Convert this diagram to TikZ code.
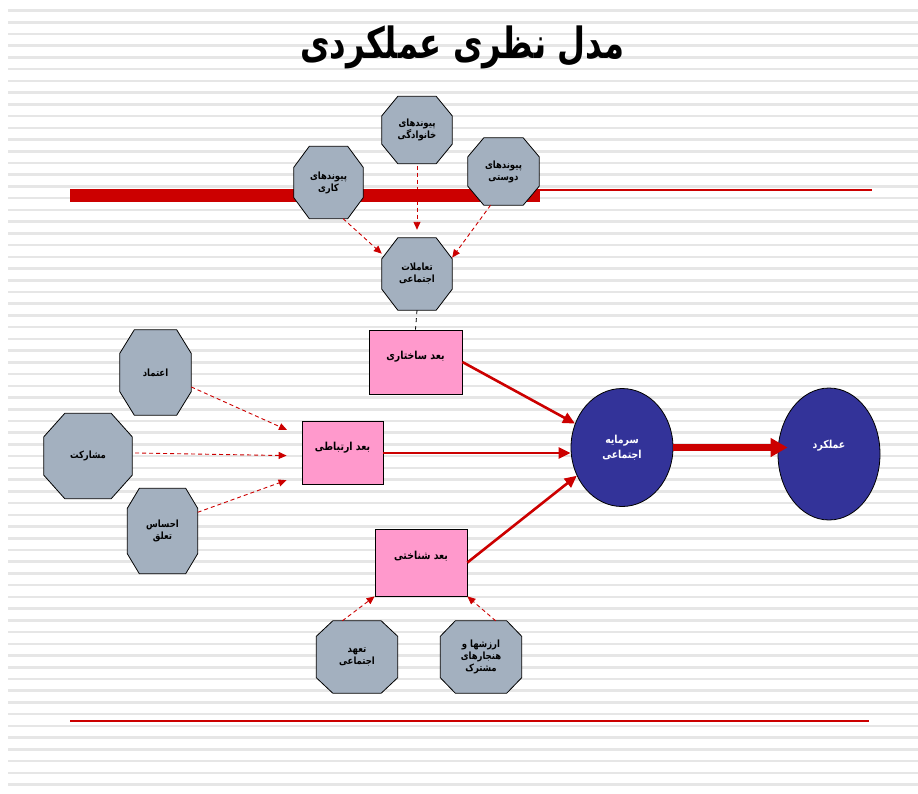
\documentclass[tikz,border=0pt]{standalone}
\usepackage{fontspec}
\usepackage{tikz}
\usetikzlibrary{shapes.geometric, arrows.meta, calc, positioning}
\TeXXeTstate=1
\newfontfamily\arabicfont[Script=Arabic, FakeStretch=0.85]{DejaVu Sans}
\newfontfamily\titlefont[Script=Arabic, FakeStretch=0.75]{DejaVu Sans}
\newcommand{\fa}[1]{{\arabicfont\beginR #1\endR}}
\definecolor{octgray}{HTML}{A3B0BF}
\definecolor{boxpink}{HTML}{FF99CC}
\definecolor{darkblue}{HTML}{333399}
\definecolor{barred}{HTML}{CC0000}
\definecolor{stripegray}{HTML}{E6E6E6}
\pgfdeclarelayer{back}
\pgfdeclarelayer{shapes}
\pgfsetlayers{back,shapes,main}
% octagon round a node: name, corner cut in x, corner cut in y
\newcommand{\octagon}[3]{%
  \filldraw[fill=octgray, draw=black, line width=0.8pt, line join=round]
    ($(#1.north west)+(#2,0)$) -- ($(#1.north east)+(-#2,0)$) -- ($(#1.north east)+(0,#3)$)
    -- ($(#1.south east)+(0,-#3)$) -- ($(#1.south east)+(-#2,0)$) -- ($(#1.south west)+(#2,0)$)
    -- ($(#1.south west)+(0,-#3)$) -- ($(#1.north west)+(0,#3)$) -- cycle;}

\begin{document}
\begin{tikzpicture}[x=1pt, y=-1pt,
    octa/.style={rectangle, align=center, inner sep=0pt, font=\bfseries\fontsize{10}{12}\selectfont},
    dim/.style={rectangle, draw, fill=boxpink, line width=0.8pt, align=center, text height=8pt, text depth=14pt, font=\bfseries\fontsize{11}{13}\selectfont},
    blob/.style={ellipse, draw, fill=darkblue, text=white, line width=0.8pt, align=center, inner sep=0pt, font=\bfseries\fontsize{11}{15}\selectfont},
    feed/.style={-{Triangle[length=8pt, width=7pt]}, barred, line width=0.9pt, dash pattern=on 4pt off 3pt},
    link/.style={-{Triangle[length=12pt, width=11pt]}, barred, line width=2.6pt}
]
\begin{pgfonlayer}{back}
\fill[white] (0,0) rectangle (918,793);
\foreach \k in {0,...,66}
    \fill[stripegray] (8, 9.3+11.727*\k) rectangle (918, 11.8+11.727*\k);
\fill[barred] (70,189) rectangle (540,202);
\draw[barred, line width=1.6pt] (540,189.8) -- (872,189.8);
\draw[barred, line width=1.6pt] (70,721) -- (869,721);
\end{pgfonlayer}
\useasboundingbox (0,0) rectangle (918,793);

\node[font=\bfseries\fontsize{43}{46}\selectfont] (title) at (462,47) {\titlefont\beginR مدل نظری عملکردی\endR};

\node[octa, minimum width=69pt, minimum height=72pt] (kari) at (328.5,182.5) {\fa{پیوندهای}\\\fa{کاری}};
\node[octa, minimum width=70pt, minimum height=67pt] (khanevadegi) at (417,130) {\fa{پیوندهای}\\\fa{خانوادگی}};
\node[octa, minimum width=71pt, minimum height=67pt] (dousti) at (503.5,171.5) {\fa{پیوندهای}\\\fa{دوستی}};
\node[octa, minimum width=70pt, minimum height=72pt] (taamol) at (417,274) {\fa{تعاملات}\\\fa{اجتماعی}};
\node[octa, minimum width=71pt, minimum height=85pt] (etemad) at (155.5,372.5) {\fa{اعتماد}};
\node[octa, minimum width=88pt, minimum height=85pt] (mosharekat) at (88,456) {\fa{مشارکت}};
\node[octa, minimum width=70pt, minimum height=85pt] (ehsas) at (162.5,531) {\fa{احساس}\\\fa{تعلق}};
\node[octa, minimum width=81pt, minimum height=72pt] (taahod) at (357,657) {\fa{تعهد}\\\fa{اجتماعی}};
\node[octa, minimum width=81pt, minimum height=72pt] (arzesh) at (481,657) {\fa{ارزشها و}\\\fa{هنجارهای}\\\fa{مشترک}};

\begin{pgfonlayer}{shapes}
\octagon{kari}{15.5}{21}
\octagon{khanevadegi}{16}{19.5}
\octagon{dousti}{16}{19}
\octagon{taamol}{16}{21}
\octagon{etemad}{14.5}{23.5}
\octagon{mosharekat}{21}{23.5}
\octagon{ehsas}{12}{20}
\octagon{taahod}{16.5}{15.5}
\octagon{arzesh}{15}{15.5}
\end{pgfonlayer}

\node[dim, minimum width=93pt, minimum height=64pt] (sakhtari) at (415.5,362) {\fa{بعد ساختاری}};
\node[dim, minimum width=81pt, minimum height=63pt] (ertebati) at (342.5,453) {\fa{بعد ارتباطی}};
\node[dim, minimum width=92pt, minimum height=67pt] (shenakhti) at (421,562.5) {\fa{بعد شناختی}};

\node[blob, minimum width=102pt, minimum height=118pt] (sarmaye) at (622,447.5) {\fa{سرمایه}\\\fa{اجتماعی}};
\node[blob, minimum width=102pt, minimum height=132pt, text height=8pt, text depth=20pt] (amalkard) at (829,454) {\fa{عملکرد}};

\draw[feed] (kari.-68) -- (taamol.150);
\draw[feed, shorten <=2pt, shorten >=8pt] (khanevadegi) -- (taamol);
\draw[feed] (dousti.-111) -- (taamol.25);
\draw[black, line width=0.8pt, dash pattern=on 4pt off 4pt] (taamol.south) -- (sakhtari.north);

\draw[feed, shorten >=16pt] (etemad.-22) -- (ertebati.158);
\draw[feed, shorten <=3pt, shorten >=15pt] (mosharekat.4) -- (ertebati.184);
\draw[feed, shorten >=16pt] (ehsas.28) -- (ertebati.208);

\draw[feed] (taahod.112) -- (shenakhti.south west);
\draw[feed] (arzesh.68) -- (shenakhti.south east);

\draw[link] (sakhtari.east) -- (sarmaye.153);
\draw[link] (ertebati.east) -- (ertebati.east -| sarmaye.west);
\draw[link] (shenakhti.east) -- (sarmaye.212);
\draw[-{Triangle[length=17pt, width=18pt]}, barred, line width=7pt, shorten >=-10pt] (sarmaye.east) -- (sarmaye.east -| amalkard.west);
\end{tikzpicture}
\end{document}
